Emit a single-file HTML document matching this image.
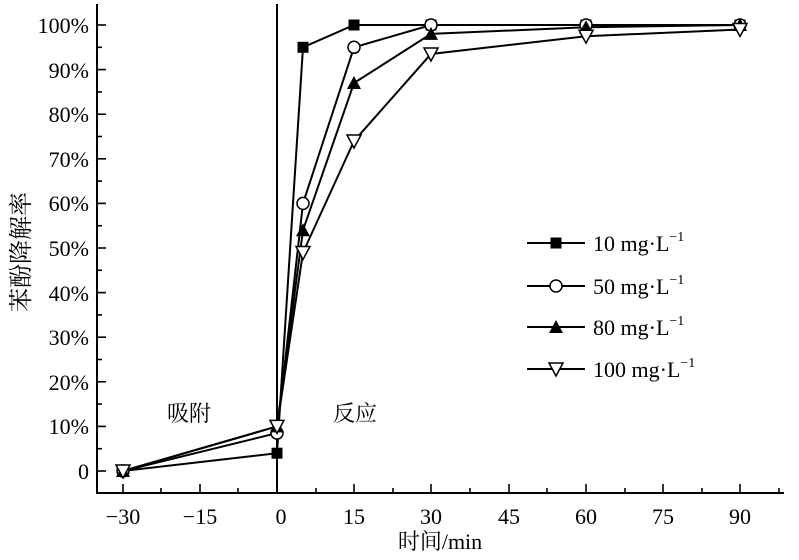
<!DOCTYPE html>
<html><head><meta charset="utf-8"><style>
body{margin:0;background:#fff}
svg text{font-family:"Liberation Serif","Noto Serif CJK SC",serif;fill:#000}
</style></head><body>
<svg width="799" height="555" xmlns="http://www.w3.org/2000/svg" xmlns:xlink="http://www.w3.org/1999/xlink">
<defs>
<rect id="m0" x="-5.5" y="-5.5" width="11" height="11" fill="#000"/>
<circle id="m1" r="6" fill="#fff" stroke="#000" stroke-width="1.5"/>
<polygon id="m2" points="-7,6 7,6 0,-7" fill="#000"/>
<polygon id="m3" points="-7,-6 7,-6 0,7" fill="#fff" stroke="#000" stroke-width="1.5"/>
</defs>
<g stroke="#000" stroke-width="2" fill="none">
<line x1="97" y1="4" x2="97" y2="494"/>
<line x1="96" y1="493" x2="784" y2="493"/>
<line x1="277" y1="4" x2="277" y2="493"/>
</g>
<g stroke="#000" stroke-width="1.6">
<line x1="123" y1="493" x2="123" y2="484"/><line x1="200" y1="493" x2="200" y2="484"/>
<line x1="354" y1="493" x2="354" y2="484"/><line x1="431" y1="493" x2="431" y2="484"/>
<line x1="509" y1="493" x2="509" y2="484"/><line x1="586" y1="493" x2="586" y2="484"/>
<line x1="663" y1="493" x2="663" y2="484"/><line x1="740" y1="493" x2="740" y2="484"/>
<line x1="161" y1="493" x2="161" y2="488"/><line x1="238" y1="493" x2="238" y2="488"/>
<line x1="316" y1="493" x2="316" y2="488"/><line x1="393" y1="493" x2="393" y2="488"/>
<line x1="470" y1="493" x2="470" y2="488"/><line x1="547" y1="493" x2="547" y2="488"/>
<line x1="625" y1="493" x2="625" y2="488"/><line x1="702" y1="493" x2="702" y2="488"/>
<line x1="779" y1="493" x2="779" y2="488"/>
<line x1="97" x2="106" y1="471" y2="471"/><line x1="97" x2="102" y1="448.7" y2="448.7"/>
<line x1="97" x2="106" y1="426.4" y2="426.4"/><line x1="97" x2="102" y1="404.1" y2="404.1"/>
<line x1="97" x2="106" y1="381.8" y2="381.8"/><line x1="97" x2="102" y1="359.5" y2="359.5"/>
<line x1="97" x2="106" y1="337.2" y2="337.2"/><line x1="97" x2="102" y1="314.9" y2="314.9"/>
<line x1="97" x2="106" y1="292.6" y2="292.6"/><line x1="97" x2="102" y1="270.3" y2="270.3"/>
<line x1="97" x2="106" y1="248" y2="248"/><line x1="97" x2="102" y1="225.7" y2="225.7"/>
<line x1="97" x2="106" y1="203.4" y2="203.4"/><line x1="97" x2="102" y1="181.1" y2="181.1"/>
<line x1="97" x2="106" y1="158.8" y2="158.8"/><line x1="97" x2="102" y1="136.5" y2="136.5"/>
<line x1="97" x2="106" y1="114.2" y2="114.2"/><line x1="97" x2="102" y1="91.9" y2="91.9"/>
<line x1="97" x2="106" y1="69.6" y2="69.6"/><line x1="97" x2="102" y1="47.3" y2="47.3"/>
<line x1="97" x2="106" y1="25" y2="25"/>
</g>
<g font-size="22" text-anchor="end">
<text x="89" y="479">0</text><text x="89" y="434">10%</text><text x="89" y="390">20%</text>
<text x="89" y="345">30%</text><text x="89" y="301">40%</text><text x="89" y="256">50%</text>
<text x="89" y="211">60%</text><text x="89" y="167">70%</text><text x="89" y="122">80%</text>
<text x="89" y="78">90%</text><text x="89" y="33">100%</text>
</g>
<g font-size="22" text-anchor="middle">
<text x="123" y="524">−30</text><text x="200" y="524">−15</text><text x="281" y="524">0</text>
<text x="354" y="524">15</text><text x="431" y="524">30</text><text x="509" y="524">45</text>
<text x="586" y="524">60</text><text x="663" y="524">75</text><text x="740" y="524">90</text>
<text x="440" y="549">时间/min</text>
<text x="189" y="421">吸附</text><text x="355" y="421">反应</text>
</g>
<text font-size="24" text-anchor="middle" transform="translate(29,252) rotate(-90)">苯酚降解率</text>
<g stroke="#000" stroke-width="2" fill="none">
<polyline points="123,471 277,453.2 303,47.3 354,25 431,25 586,25 740,25"/>
<polyline points="123,471 277,433.1 303,203.4 354,47.3 431,25 586,25 740,25"/>
<polyline points="123,471 277,426.4 303,230.2 354,83 431,33.9 586,27.2 740,25"/>
<polyline points="123,471 277,426.4 303,252.5 354,141 431,54 586,36.2 740,29.5"/>
</g>
<use xlink:href="#m0" x="123" y="471"/><use xlink:href="#m0" x="277" y="453.2"/><use xlink:href="#m0" x="303" y="47.3"/><use xlink:href="#m0" x="354" y="25"/><use xlink:href="#m0" x="431" y="25"/><use xlink:href="#m0" x="586" y="25"/><use xlink:href="#m0" x="740" y="25"/>
<use xlink:href="#m1" x="123" y="471"/><use xlink:href="#m1" x="277" y="433.1"/><use xlink:href="#m1" x="303" y="203.4"/><use xlink:href="#m1" x="354" y="47.3"/><use xlink:href="#m1" x="431" y="25"/><use xlink:href="#m1" x="586" y="25"/><use xlink:href="#m1" x="740" y="25"/>
<use xlink:href="#m2" x="123" y="471"/><use xlink:href="#m2" x="277" y="426.4"/><use xlink:href="#m2" x="303" y="230.2"/><use xlink:href="#m2" x="354" y="83"/><use xlink:href="#m2" x="431" y="33.9"/><use xlink:href="#m2" x="586" y="27.2"/><use xlink:href="#m2" x="740" y="25"/>
<use xlink:href="#m3" x="123" y="471"/><use xlink:href="#m3" x="277" y="426.4"/><use xlink:href="#m3" x="303" y="252.5"/><use xlink:href="#m3" x="354" y="141"/><use xlink:href="#m3" x="431" y="54"/><use xlink:href="#m3" x="586" y="36.2"/><use xlink:href="#m3" x="740" y="29.5"/>
<g stroke="#000" stroke-width="2">
<line x1="527" x2="585" y1="243" y2="243"/><line x1="527" x2="585" y1="286" y2="286"/>
<line x1="527" x2="585" y1="327" y2="327"/><line x1="527" x2="585" y1="369" y2="369"/>
</g>
<use xlink:href="#m0" x="556" y="243"/><use xlink:href="#m1" x="556" y="286"/>
<use xlink:href="#m2" x="556" y="327"/><use xlink:href="#m3" x="556" y="369"/>
<g font-size="22">
<text x="593" y="251">10 mg·L<tspan dy="-10" font-size="14">−1</tspan></text>
<text x="593" y="294">50 mg·L<tspan dy="-10" font-size="14">−1</tspan></text>
<text x="593" y="335">80 mg·L<tspan dy="-10" font-size="14">−1</tspan></text>
<text x="593" y="377">100 mg·L<tspan dy="-10" font-size="14">−1</tspan></text>
</g>
</svg>
</body></html>
